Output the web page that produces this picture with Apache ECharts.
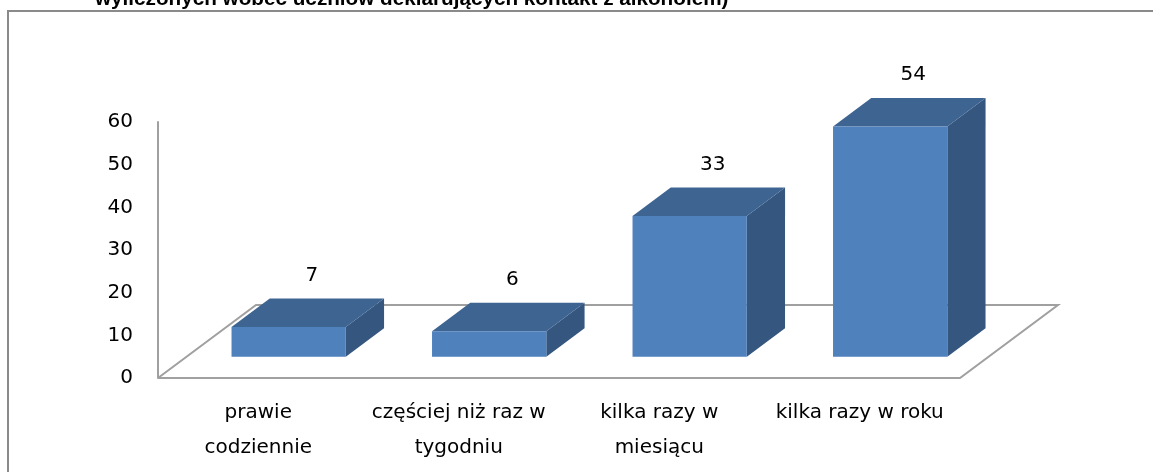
<!DOCTYPE html>
<html>
<head>
<meta charset="utf-8">
<script src="https://cdn.jsdelivr.net/npm/echarts@6/dist/echarts.min.js"></script>
<style>
  html, body { margin: 0; padding: 0; background: #ffffff; }
  #chart { width: 1153px; height: 472px; }
</style>
</head>
<body>
<div id="chart"></div>
<script>
// ---- data ----
const titleText = 'wyliczonych wobec uczniów deklarujących kontakt z alkoholem)';
const categories = ['prawie\ncodziennie', 'częściej niż raz w\ntygodniu', 'kilka razy w\nmiesiącu', 'kilka razy w roku'];
const values = [7, 6, 33, 54];
const yTicks = { min: 0, max: 60, interval: 10 };

// ---- 3D look constants ----
const DEPTH_X = 98, DEPTH_Y = -73;      // floor depth vector
const BAR_START = 0.29, BAR_DEPTH = 0.39; // bar placement within floor depth
const BAR_WIDTH = 0.57;                   // fraction of category band
const C_FRONT = '#4f81bd', C_TOP = '#3e6492', C_SIDE = '#34567f';
const FONT = '"DejaVu Sans", sans-serif';

const chart = echarts.init(document.getElementById('chart'), null, { renderer: 'canvas' });

function renderFloor(params, api) {
  const cs = params.coordSys;
  const x = cs.x, y = cs.y + cs.height, w = cs.width;
  return {
    type: 'polyline',
    shape: { points: [
      [x, y], [x + DEPTH_X, y + DEPTH_Y], [x + w + DEPTH_X, y + DEPTH_Y], [x + w, y], [x, y]
    ] },
    style: { stroke: '#a0a0a0', lineWidth: 2, fill: null },
    silent: true
  };
}

function renderBar(params, api) {
  const i = api.value(0), v = api.value(1);
  const base = api.coord([i, 0]);
  const top = api.coord([i, v]);
  const band = api.size([1, 0])[0];
  const w = band * BAR_WIDTH;
  const ox = DEPTH_X * BAR_START + 2, oy = DEPTH_Y * BAR_START;
  const bx = DEPTH_X * BAR_DEPTH, by = DEPTH_Y * BAR_DEPTH;
  const x0 = base[0] - w / 2 + ox, x1 = x0 + w;
  const yb = base[1] + oy, yt = top[1] + oy;
  return {
    type: 'group',
    children: [
      { type: 'polygon', shape: { points: [[x1, yt], [x1 + bx, yt + by], [x1 + bx, yb + by], [x1, yb]] },
        style: { fill: C_SIDE } },
      { type: 'polygon', shape: { points: [[x0, yt], [x0 + bx, yt + by], [x1 + bx, yt + by], [x1, yt]] },
        style: { fill: C_TOP } },
      { type: 'rect', shape: { x: x0, y: yt, width: w, height: yb - yt },
        style: { fill: C_FRONT } },
      { type: 'text', x: (x0 + x1) / 2 + bx / 2 + 4, y: yt + by - 23,
        style: { text: String(v), fill: '#000', fontSize: 20, fontFamily: FONT,
          align: 'center', verticalAlign: 'middle' } }
    ]
  };
}

chart.setOption({
  animation: false,
  backgroundColor: '#ffffff',
  graphic: [
    { type: 'rect', x: 8, y: 11, shape: { x: 0, y: 0, width: 1160, height: 480 },
      style: { fill: null, stroke: '#8a8a8a', lineWidth: 2 }, silent: true, z: -10 },
    { type: 'text', x: 95, y: -1,
      style: { text: titleText, fontSize: 20.7, fontWeight: 'bold',
        fontFamily: '"Liberation Sans", Arial, sans-serif', fill: '#000',
        align: 'left', verticalAlign: 'middle' } }
  ],
  grid: { left: 158, top: 122, right: 193, bottom: 94 },
  xAxis: {
    type: 'category',
    data: categories,
    axisLine: { show: false },
    axisTick: { show: false },
    axisLabel: { color: '#000', fontFamily: FONT, fontSize: 20, lineHeight: 35, margin: 17, interval: 0 }
  },
  yAxis: {
    type: 'value',
    min: yTicks.min, max: yTicks.max, interval: yTicks.interval,
    axisLine: { show: true, lineStyle: { color: '#a0a0a0', width: 2 } },
    axisTick: { show: false },
    splitLine: { show: false },
    axisLabel: { color: '#000', fontFamily: FONT, fontSize: 20, margin: 25 }
  },
  series: [
    { type: 'custom', renderItem: renderFloor, data: [[0, 0]], silent: true, z: 1 },
    { type: 'custom', renderItem: renderBar, data: values.map((v, i) => [i, v]), z: 2,
      encode: { x: 0, y: 1 } }
  ]
});
</script>
</body>
</html>
